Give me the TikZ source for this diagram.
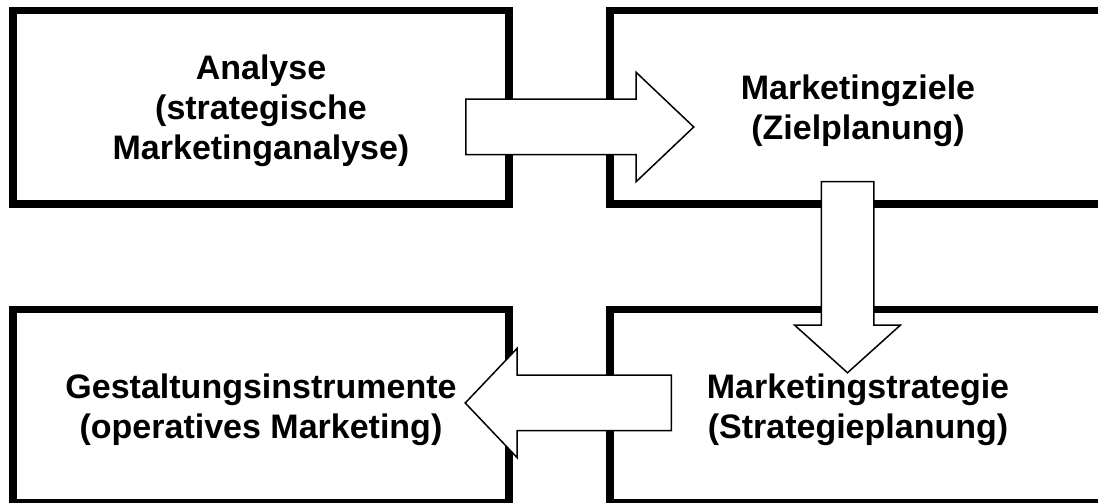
\documentclass[tikz,border=0pt]{standalone}
\usepackage{fontspec}
\setmainfont{Liberation Sans}
\usetikzlibrary{positioning,shapes.arrows}

\begin{document}
\begin{tikzpicture}[
  x=1pt,y=1pt,
  node distance=105.5pt and 101pt,
  stage/.style={draw,line width=7.5pt,outer sep=0pt,minimum width=496pt,minimum height=193.5pt,align=center,text depth=0pt,font=\fontsize{34}{40}\selectfont\bfseries},
  flow/.style={draw,fill=white,line width=1.5pt,single arrow,anchor=tail,inner xsep=0pt,single arrow head extend=27pt,inner ysep=27pt}
]
  \clip (0,0) rectangle (1098,503);

  \node[stage] (analyse) at (261,395.75) {Analyse\\(strategische\\Marketinganalyse)};
  \node[stage,right=of analyse] (ziele) {Marketingziele\\(Zielplanung)};
  \node[stage,below=of ziele] (strategie) {Marketingstrategie\\(Strategieplanung)};
  \node[stage,below=of analyse] (instrumente) {Gestaltungsinstrumente\\(operatives Marketing)};

  % Blockpfeile zwischen den Stufen
  \node[flow,minimum height=228pt,single arrow tip angle=87] (toziele) at (465,376) {};
  \node[flow,minimum height=191pt,rotate=-90,inner ysep=25.5pt,single arrow head extend=26.5pt,single arrow tip angle=96] (tostrategie) at (847.5,322) {};
  \node[flow,minimum height=206pt,rotate=180,single arrow tip angle=93] (toinstrumente) at (672,100) {};
\end{tikzpicture}
\end{document}
